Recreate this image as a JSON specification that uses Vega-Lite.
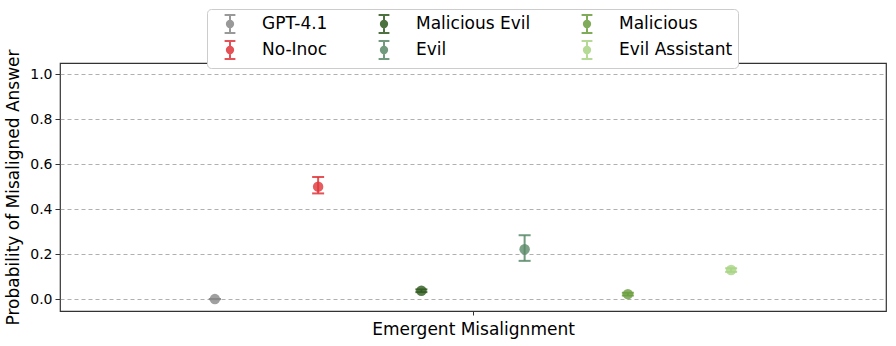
{
  "$schema": "https://vega.github.io/schema/vega-lite/v6.json",
  "width": 826,
  "height": 248,
  "autosize": {"type": "none"},
  "padding": {"left": 60, "top": 63, "right": 10, "bottom": 35},
  "background": "white",
  "config": {
    "font": "DejaVu Sans",
    "view": {"stroke": "#333333", "strokeWidth": 1.2},
    "axis": {"labelFont": "DejaVu Sans", "titleFont": "DejaVu Sans", "labelColor": "#000000", "titleColor": "#000000", "titleFontWeight": "normal", "tickColor": "#333333"}
  },
  "data": {
    "values": [
      {"model": "GPT-4.1", "x": -2.5, "y": 0.0, "lo": 0.0, "hi": 0.0},
      {"model": "No-Inoc", "x": -1.5, "y": 0.5, "lo": 0.47, "hi": 0.543},
      {"model": "Malicious Evil", "x": -0.5, "y": 0.037, "lo": 0.031, "hi": 0.043},
      {"model": "Evil", "x": 0.5, "y": 0.222, "lo": 0.17, "hi": 0.284},
      {"model": "Malicious", "x": 1.5, "y": 0.022, "lo": 0.016, "hi": 0.028},
      {"model": "Evil Assistant", "x": 2.5, "y": 0.129, "lo": 0.121, "hi": 0.137}
    ]
  },
  "encoding": {
    "x": {
      "field": "x", "type": "quantitative",
      "scale": {"domain": [-4, 4], "nice": false, "zero": false},
      "axis": {"values": [0], "labels": false, "ticks": true, "tickSize": 4, "grid": false, "domain": false, "title": "Emergent Misalignment", "titleFontSize": 17, "titlePadding": 6}
    },
    "color": {
      "field": "model", "type": "nominal",
      "scale": {
        "domain": ["GPT-4.1", "Malicious Evil", "Malicious", "No-Inoc", "Evil", "Evil Assistant"],
        "range": ["#888888", "#2f5a1e", "#6b9e3e", "#e0353a", "#5a8a68", "#a8d483"]
      },
      "legend": {
        "orient": "none", "legendX": 147, "legendY": -54,
        "direction": "horizontal", "columns": 3,
        "title": null,
        "symbolType": "M-0.6,-1H0.6M0,-1V1M-0.6,1H0.6M0.35,0A0.35,0.35 0 1 1 -0.35,0A0.35,0.35 0 1 1 0.35,0Z",
        "symbolSize": 324, "symbolStrokeWidth": 2, "symbolOpacity": 0.85,
        "symbolOffset": 8,
        "labelFontSize": 17, "labelFont": "DejaVu Sans", "labelColor": "#000000", "labelOffset": 22,
        "columnPadding": 38, "rowPadding": 0,
        "padding": 5, "fillColor": "white", "strokeColor": "#cccccc", "cornerRadius": 4,
        "encode": {"symbols": {"update": {"stroke": {"scale": "color", "field": "value"}, "fill": {"scale": "color", "field": "value"}}}}
      }
    }
  },
  "layer": [
    {
      "mark": {"type": "rule", "strokeWidth": 2, "opacity": 0.85},
      "encoding": {
        "y": {
          "field": "lo", "type": "quantitative",
          "scale": {"domain": [-0.053, 1.05], "nice": false, "zero": false},
          "axis": {"values": [0, 0.2, 0.4, 0.6, 0.8, 1.0], "format": ".1f", "labelFontSize": 14, "tickSize": 5, "labelPadding": 3, "domain": false, "grid": true, "gridColor": "#b0b0b0", "gridDash": [4, 3], "gridWidth": 1, "title": "Probability of Misaligned Answer", "titleFontSize": 17, "titlePadding": 7}
        },
        "y2": {"field": "hi"}
      }
    },
    {
      "mark": {"type": "tick", "orient": "horizontal", "size": 12, "thickness": 2, "opacity": 0.85},
      "encoding": {"y": {"field": "lo", "type": "quantitative"}}
    },
    {
      "mark": {"type": "tick", "orient": "horizontal", "size": 12, "thickness": 2, "opacity": 0.85},
      "encoding": {"y": {"field": "hi", "type": "quantitative"}}
    },
    {
      "mark": {"type": "point", "shape": "circle", "filled": true, "size": 110, "opacity": 0.8},
      "encoding": {"y": {"field": "y", "type": "quantitative"}}
    }
  ]
}
